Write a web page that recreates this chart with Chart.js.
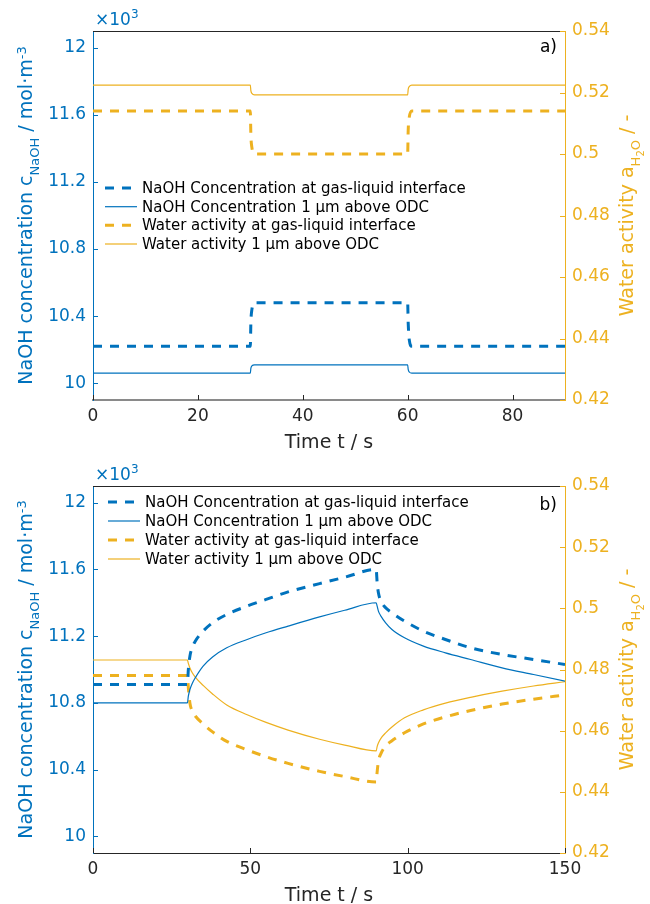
<!DOCTYPE html>
<html>
<head>
<meta charset="utf-8">
<script src="https://cdn.jsdelivr.net/npm/chart.js@4.4.0/dist/chart.umd.min.js"></script>
<style>
  html, body { margin: 0; padding: 0; background: #fff; }
  #wrap { position: relative; width: 650px; height: 904px; }
  canvas { position: absolute; left: 0; }
</style>
</head>
<body>
<div id="wrap">
  <canvas id="chartA" width="650" height="452" style="top:0"></canvas>
  <canvas id="chartB" width="650" height="452" style="top:452px"></canvas>
</div>
<script>
// ---- data (concentration in 10^3 mol/m^3, water activity dimensionless) ----
const labelsLegend = [
    'NaOH Concentration at gas-liquid interface',
    'NaOH Concentration 1 \u00b5m above ODC',
    'Water activity at gas-liquid interface',
    'Water activity 1 \u00b5m above ODC'
];

// a) step change
const timeA = [0, 30, 30.1, 30.3, 30.8, 60, 60.1, 60.3, 60.8, 90];
const naohInterfaceA = [10.22, 10.22, 10.36, 10.44, 10.48, 10.48, 10.36, 10.26, 10.22, 10.22];
const naohOdcA = [10.06, 10.06, 10.088, 10.103, 10.11, 10.11, 10.082, 10.067, 10.06, 10.06];
const waterInterfaceA = [0.514, 0.514, 0.5063, 0.5021, 0.5, 0.5, 0.5077, 0.5119, 0.514, 0.514];
const waterOdcA = [0.5224, 0.5224, 0.5206, 0.5197, 0.5192, 0.5192, 0.521, 0.5219, 0.5224, 0.5224];

// b) longer pulse
const timeB = [0, 30, 30.3, 30.8, 31.5, 32.5, 35, 38, 42.5, 49, 55, 62, 72, 80, 90,
    90.3, 90.7, 91.5, 93, 95, 99, 105, 112, 120, 130, 140, 150];
const naohInterfaceB = [10.91, 10.91, 11.0, 11.08, 11.13, 11.17, 11.23, 11.28, 11.33, 11.38, 11.42, 11.465, 11.515, 11.553, 11.6,
    11.52, 11.46, 11.41, 11.37, 11.34, 11.29, 11.23, 11.18, 11.13, 11.09, 11.06, 11.03];
const naohOdcB = [10.8, 10.8, 10.84, 10.88, 10.915, 10.95, 11.02, 11.075, 11.13, 11.18, 11.22, 11.26, 11.315, 11.355, 11.4,
    11.38, 11.35, 11.32, 11.28, 11.24, 11.19, 11.14, 11.1, 11.06, 11.01, 10.97, 10.93];
const waterInterfaceB = [0.478, 0.478, 0.474, 0.469, 0.4665, 0.4648, 0.4622, 0.4596, 0.4565, 0.4537, 0.4515, 0.4493, 0.4467, 0.445, 0.4432,
    0.4465, 0.45, 0.4525, 0.455, 0.4567, 0.4593, 0.4622, 0.4645, 0.4666, 0.4687, 0.4703, 0.4717];
const waterOdcB = [0.4831, 0.4831, 0.482, 0.4805, 0.479, 0.4775, 0.4748, 0.472, 0.4684, 0.4652, 0.4627, 0.4602, 0.4572, 0.4553, 0.4534,
    0.4548, 0.456, 0.4575, 0.4593, 0.4612, 0.4642, 0.4668, 0.469, 0.4709, 0.4729, 0.4746, 0.476];

const xTicksA = [0, 20, 40, 60, 80];
const xTicksB = [0, 50, 100, 150];
const leftTicks = [10, 10.4, 10.8, 11.2, 11.6, 12];
const rightTicks = [0.42, 0.44, 0.46, 0.48, 0.5, 0.52, 0.54];

// ---- styling ----
const blue = '#0072BD';
const orange = '#EDB120';
const ink = '#262626';
const fam = '"DejaVu Sans", sans-serif';
Chart.defaults.font.family = fam;

function pts(t, v) {
    return t.map((x, i) => ({x: x, y: v[i]}));
}

function makeSets(t, a, b, c, d) {
    return [
        {label: labelsLegend[0], data: pts(t, a), yAxisID: 'y', borderColor: blue, borderWidth: 3, borderDash: [9, 8]},
        {label: labelsLegend[1], data: pts(t, b), yAxisID: 'y', borderColor: blue, borderWidth: 1.2},
        {label: labelsLegend[2], data: pts(t, c), yAxisID: 'y2', borderColor: orange, borderWidth: 3, borderDash: [9, 8]},
        {label: labelsLegend[3], data: pts(t, d), yAxisID: 'y2', borderColor: orange, borderWidth: 1.2},
    ];
}

// draws a run of text pieces (sub/superscripts) along a rotated baseline
function drawParts(ctx, parts, x, y, angle, centered, color) {
    ctx.save();
    ctx.translate(x, y);
    ctx.rotate(angle);
    ctx.fillStyle = color;
    ctx.textAlign = 'left';
    ctx.textBaseline = 'alphabetic';
    let total = 0;
    parts.forEach(p => {
        ctx.font = p.size + 'px ' + fam;
        p.w = ctx.measureText(p.text).width;
        total += p.w;
    });
    let px = centered ? -total / 2 : 0;
    parts.forEach(p => {
        ctx.font = p.size + 'px ' + fam;
        ctx.fillText(p.text, px, p.dy || 0);
        px += p.w;
    });
    ctx.restore();
}

const leftTitle = [
    {text: 'NaOH concentration c', size: 19},
    {text: 'NaOH', size: 13, dy: 7},
    {text: ' / mol\u00b7m', size: 19},
    {text: '-3', size: 13, dy: -6},
];
const rightTitle = [
    {text: 'Water activity a', size: 19},
    {text: 'H', size: 13, dy: 7},
    {text: '2', size: 10, dy: 11},
    {text: 'O', size: 13, dy: 7},
    {text: ' / -', size: 19},
];

const matlabAxes = {
    id: 'matlabAxes',
    afterDraw(chart, args, o) {
        const ctx = chart.ctx;
        const a = chart.chartArea;
        const sx = chart.scales.x, sy = chart.scales.y, sy2 = chart.scales.y2;
        ctx.save();
        ctx.setLineDash([]);
        ctx.lineWidth = 1;
        // box top
        ctx.strokeStyle = ink;
        ctx.beginPath();
        ctx.moveTo(a.left, a.top + 0.5);
        ctx.lineTo(a.right, a.top + 0.5);
        ctx.stroke();
        // inward ticks
        sx.ticks.forEach(t => {
            const px = Math.round(sx.getPixelForValue(t.value)) + 0.5;
            ctx.beginPath();
            ctx.moveTo(px, a.bottom);
            ctx.lineTo(px, a.bottom - 5);
            ctx.stroke();
        });
        ctx.strokeStyle = blue;
        sy.ticks.forEach(t => {
            const py = Math.round(sy.getPixelForValue(t.value)) + 0.5;
            ctx.beginPath();
            ctx.moveTo(a.left, py);
            ctx.lineTo(a.left + 5, py);
            ctx.stroke();
        });
        ctx.strokeStyle = orange;
        sy2.ticks.forEach(t => {
            const py = Math.round(sy2.getPixelForValue(t.value)) + 0.5;
            ctx.beginPath();
            ctx.moveTo(a.right, py);
            ctx.lineTo(a.right - 5, py);
            ctx.stroke();
        });

        // legend
        chart.data.datasets.forEach((ds, i) => {
            const y = o.rows[i];
            ctx.strokeStyle = ds.borderColor;
            ctx.lineWidth = ds.borderWidth;
            ctx.setLineDash(ds.borderDash || []);
            ctx.beginPath();
            ctx.moveTo(o.legendX, y);
            ctx.lineTo(o.legendX + 32, y);
            ctx.stroke();
            ctx.setLineDash([]);
            ctx.fillStyle = '#000';
            ctx.font = '15px ' + fam;
            ctx.textBaseline = 'middle';
            ctx.textAlign = 'left';
            ctx.fillText(ds.label, o.textX, y + 1);
        });

        // panel tag
        ctx.fillStyle = '#000';
        ctx.font = '17px ' + fam;
        ctx.textAlign = 'right';
        ctx.textBaseline = 'alphabetic';
        ctx.fillText(o.tag, a.right - 8, a.top + o.tagDy);

        // x10^3 exponent
        drawParts(ctx, [{text: '\u00d710', size: 17}, {text: '3', size: 12, dy: -7}], a.left + 2, a.top - 6, 0, false, blue);

        // axis titles
        ctx.fillStyle = ink;
        ctx.font = '19px ' + fam;
        ctx.textAlign = 'center';
        ctx.fillText('Time t / s', (a.left + a.right) / 2, a.bottom + 48);
        const cy = (a.top + a.bottom) / 2;
        drawParts(ctx, leftTitle, 32, cy, -Math.PI / 2, true, blue);
        drawParts(ctx, rightTitle, 633, cy, -Math.PI / 2, true, orange);
        ctx.restore();
    }
};

function makeConfig(sets, xMax, xTicks, xBorder, padTop, xHeight, extra) {
    return {
        type: 'line',
        data: {datasets: sets},
        options: {
            responsive: false,
            animation: false,
            layout: {padding: {top: padTop, left: 0, right: 0, bottom: 0}},
            elements: {point: {radius: 0}, line: {cubicInterpolationMode: 'monotone'}},
            scales: {
                x: {
                    type: 'linear', min: 0, max: xMax,
                    afterBuildTicks: s => { s.ticks = xTicks.map(v => ({value: v})); },
                    afterFit: s => { s.height = xHeight; },
                    grid: {display: false, drawTicks: false},
                    border: {color: xBorder.color, width: xBorder.width},
                    ticks: {color: ink, font: {size: 17}, padding: 6, maxRotation: 0,
                        callback: v => String(v)}
                },
                y: {
                    position: 'left', min: 9.9, max: 12.1,
                    afterBuildTicks: s => { s.ticks = leftTicks.map(v => ({value: v})); },
                    afterFit: s => { s.width = 93; },
                    grid: {display: false, drawTicks: false},
                    border: {color: blue, width: 1},
                    ticks: {color: blue, font: {size: 17}, padding: 7, callback: v => String(v)}
                },
                y2: {
                    position: 'right', min: 0.42, max: 0.54,
                    afterBuildTicks: s => { s.ticks = rightTicks.map(v => ({value: v})); },
                    afterFit: s => { s.width = 85; },
                    grid: {display: false, drawTicks: false},
                    border: {color: orange, width: 1},
                    ticks: {color: orange, font: {size: 17}, padding: 7, callback: v => String(v)}
                }
            },
            plugins: {
                legend: {display: false},
                tooltip: {enabled: false},
                matlabAxes: extra
            }
        },
        plugins: [matlabAxes]
    };
}

const chartA = new Chart(document.getElementById('chartA'), makeConfig(
    makeSets(timeA, naohInterfaceA, naohOdcA, waterInterfaceA, waterOdcA),
    90, xTicksA, {color: '#8a8a8a', width: 2}, 31, 52,
    {tag: 'a)', tagDy: 21, legendX: 105, textX: 142, rows: [188, 206.7, 225.3, 244]}
));

const chartB = new Chart(document.getElementById('chartB'), makeConfig(
    makeSets(timeB, naohInterfaceB, naohOdcB, waterInterfaceB, waterOdcB),
    150, xTicksB, {color: ink, width: 1}, 34, 51,
    {tag: 'b)', tagDy: 24, legendX: 108, textX: 145, rows: [50, 69, 88, 107]}
));
</script>
</body>
</html>
